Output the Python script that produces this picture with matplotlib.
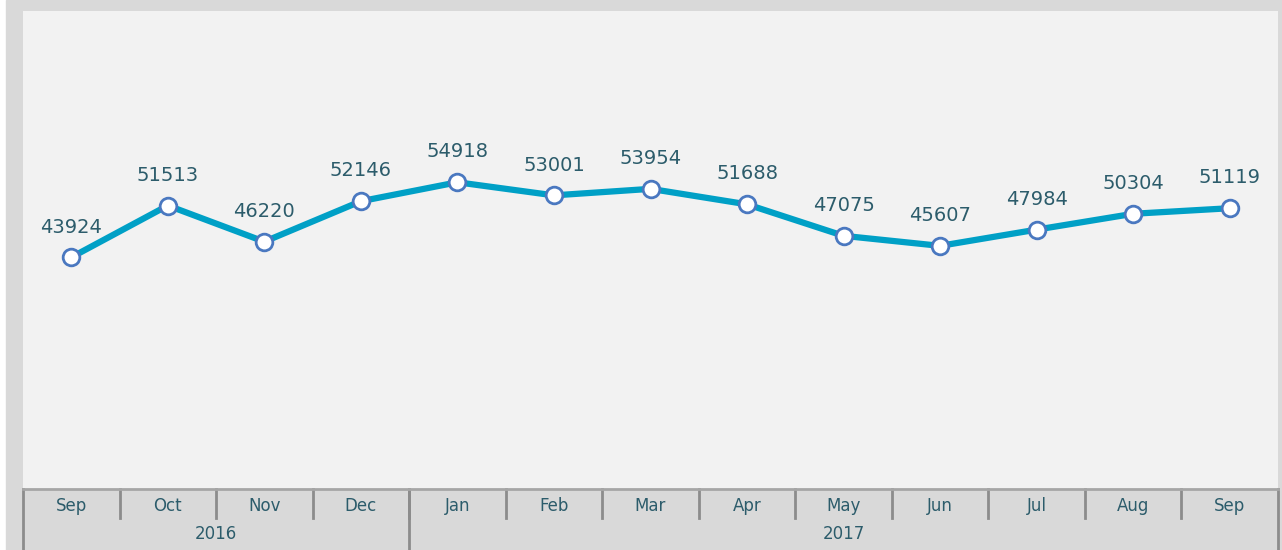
import matplotlib.pyplot as plt
from matplotlib.patches import Rectangle

# datos
meses = ["Sep", "Oct", "Nov", "Dec", "Jan", "Feb", "Mar", "Apr", "May", "Jun", "Jul", "Aug", "Sep"]
anios = ["2016", "2017"]
meses_por_anio = [4, 9]
valores = [43924, 51513, 46220, 52146, 54918, 53001, 53954, 51688, 47075, 45607, 47984, 50304, 51119]

W, H = 1282, 550
fig = plt.figure(figsize=(W / 100, H / 100), dpi=100, facecolor="white")
fig.patches.append(Rectangle((6 / W, 0), 1 - 6 / W, 1, transform=fig.transFigure,
                             color="#d9d9d9", zorder=-10))

ax = fig.add_axes([23 / W, 61 / H, 1255 / W, 478 / H])
ax.set_facecolor("#f2f2f2")

x = list(range(len(valores)))
ax.plot(x, valores, color="#00a0c6", lw=4.5, zorder=2, solid_capstyle="round")
ax.plot(x, valores, ls="none", marker="o", ms=12, mfc="white", mec="#4a78c0",
        mew=2, zorder=3)

texto_color = "#2c5c6b"
for xi, v in zip(x, valores):
    ax.annotate(str(v), (xi, v), xytext=(0, 15), textcoords="offset points",
                ha="center", va="bottom", fontsize=14, color=texto_color)

ax.set_xlim(-0.5, len(valores) - 0.5)
ax.set_ylim(10000, 80000)
ax.set_yticks([])

for s in ["top", "left", "right"]:
    ax.spines[s].set_visible(False)
ax.spines["bottom"].set_color("#a6a6a6")
ax.spines["bottom"].set_linewidth(2)

ax.set_xticks(x)
ax.set_xticklabels(meses, fontsize=12, color=texto_color)
ax.tick_params(axis="x", length=0, pad=6)

tr = ax.get_xaxis_transform()
tick_bajo = -29 / 478
fondo = -61 / 478
for b in range(1, len(valores)):
    ax.plot([b - 0.5, b - 0.5], [0, tick_bajo], transform=tr, color="#8c8c8c",
            lw=2, clip_on=False)

inicio = -0.5
for anio, n in zip(anios, meses_por_anio):
    ax.plot([inicio, inicio], [0, fondo], transform=tr, color="#8c8c8c", lw=2, clip_on=False)
    ax.text(inicio + n / 2, -45 / 478, anio, transform=tr, ha="center", va="center",
            fontsize=12, color=texto_color)
    inicio += n
ax.plot([inicio, inicio], [0, fondo], transform=tr, color="#8c8c8c", lw=2, clip_on=False)

fig.savefig("out.png", dpi=100)
